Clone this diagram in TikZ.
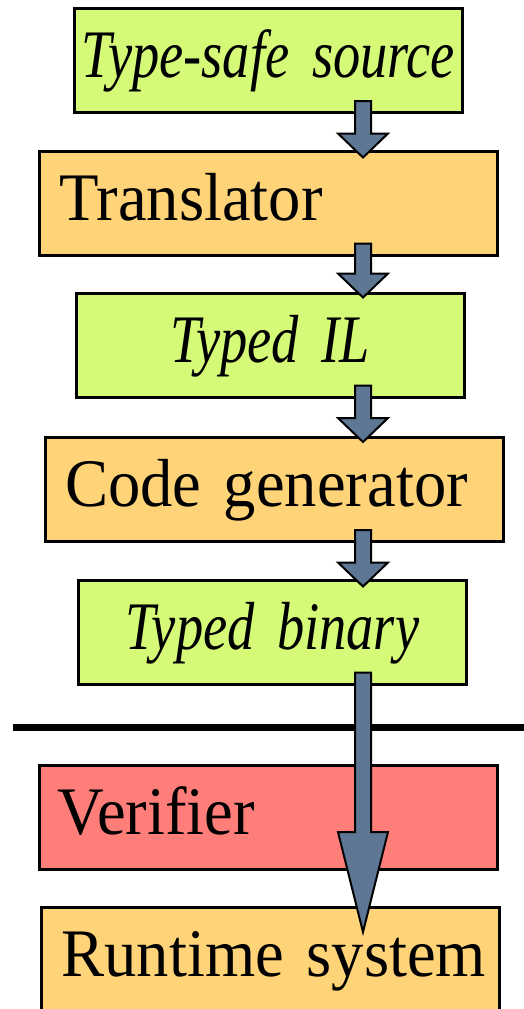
\documentclass[tikz,border=0pt]{standalone}
\usepackage{fontspec}
\setmainfont{Liberation Serif}[FakeStretch=0.95]
\newfontfamily\slimserif{Liberation Serif}[FakeStretch=0.8]
\usetikzlibrary{calc}

\definecolor{typedgreen}{HTML}{D4FA78}
\definecolor{passorange}{HTML}{FFD478}
\definecolor{checkred}{HTML}{FF7E79}
\definecolor{flowslate}{HTML}{5E7794}

\tikzset{
  stage/.style={draw=black, line width=3pt, minimum height=104pt, inner ysep=0pt,
    text height=46pt, text depth=12pt, font=\fontsize{68pt}{72pt}\selectfont},
  artifact/.style={stage, fill=typedgreen, inner xsep=0pt, text width=388pt, align=center,
    font=\fontsize{68pt}{72pt}\selectfont\slimserif\itshape},
  tool/.style={stage, fill=passorange, inner xsep=20pt, text width=418pt, align=left},
  flow/.style={draw=black, line width=2pt, fill=flowslate, line join=miter}
}

% block arrow: from, to, head length, tip offset
\newcommand{\flowarrow}[4]{%
  \draw[flow] ($(#1.south -| axis)+(-8,-13)$) -- ($(#2.north -| axis)+(-8,#4-#3)$)
    -- ($(#2.north -| axis)+(-25,#4-#3)$) -- ($(#2.north -| axis)+(0,#4)$)
    -- ($(#2.north -| axis)+(25,#4-#3)$) -- ($(#2.north -| axis)+(8,#4-#3)$)
    -- ($(#1.south -| axis)+(8,-13)$) -- cycle;}

\begin{document}
\begin{tikzpicture}[x=1pt, y=-1pt]
\useasboundingbox (0,0) rectangle (523,1009);
\coordinate (axis) at (363,0);

% compile-time chain
\node[artifact] (source) at (268.5,60.5) {Type-safe source};
\node[tool] (translator) at (268.5,203) {Translator};
\node[artifact] (il) at (270,345) {Typed IL};
\node[tool] (codegen) at (274,489.5) {\mbox{Code generator}};
\node[artifact] (binary) at (272.5,632) {Typed binary};

% trust boundary
\draw[line width=7pt] (13,727) -- (530,727);

% run-time side
\node[stage, fill=checkred, inner xsep=18pt, text width=422pt, align=left] (verifier) at (268.5,817.5) {Verifier};
\node[tool] (runtime) at (270.5,959.5) {\mbox{Runtime system}};

% arrows
\flowarrow{source}{translator}{24}{8}
\flowarrow{translator}{il}{24}{6}
\flowarrow{il}{codegen}{24}{6}
\flowarrow{codegen}{binary}{24}{8}
\flowarrow{binary}{runtime}{100}{26}
\end{tikzpicture}
\end{document}
